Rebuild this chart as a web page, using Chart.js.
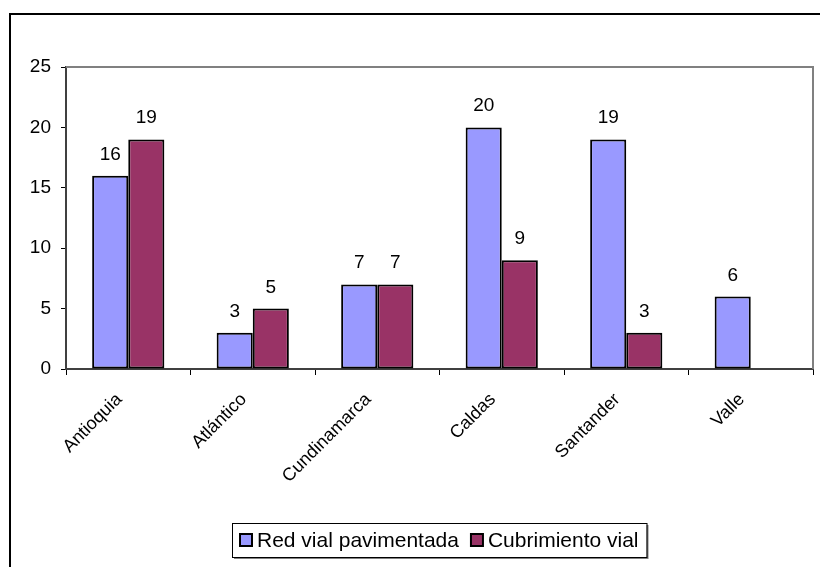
<!DOCTYPE html>
<html>
<head>
<meta charset="utf-8">
<script src="https://cdn.jsdelivr.net/npm/chart.js@4"></script>
<style>
    html, body { margin: 0; padding: 0; background: #fff; }
    #wrap { width: 820px; height: 567px; position: relative; }
</style>
</head>
<body>
<div id="wrap"><canvas id="roadChart" width="820" height="567"></canvas></div>
<script>
const departments = ['Antioquia', 'Atlántico', 'Cundinamarca', 'Caldas', 'Santander', 'Valle'];
const pavedNetwork = [16, 3, 7, 20, 19, 6];
const roadCoverage = [19, 5, 7, 9, 3, null];
const yTicks = [0, 5, 10, 15, 20, 25];

const FONT = 'Liberation Sans, Arial, sans-serif';

// frame, plot box, value labels and the boxed legend (Excel look)
const excelLook = {
    id: 'excelLook',
    beforeDatasetsDraw(chart) {
        const { ctx, chartArea: a } = chart;
        ctx.save();
        ctx.strokeStyle = '#808080';
        ctx.lineWidth = 2;
        ctx.beginPath();
        ctx.moveTo(a.left, a.top);
        ctx.lineTo(a.right, a.top);
        ctx.lineTo(a.right, a.bottom);
        ctx.stroke();
        ctx.restore();
    },
    afterDraw(chart) {
        const { ctx, chartArea: a } = chart;
        ctx.save();
        // outer frame
        ctx.strokeStyle = '#000';
        ctx.lineWidth = 2;
        ctx.beginPath();
        ctx.moveTo(10, 567);
        ctx.lineTo(10, 14);
        ctx.lineTo(820, 14);
        ctx.stroke();

        // value labels
        ctx.fillStyle = '#000';
        ctx.font = '19px ' + FONT;
        ctx.textAlign = 'center';
        ctx.textBaseline = 'alphabetic';
        chart.data.datasets.forEach((ds, i) => {
            chart.getDatasetMeta(i).data.forEach((bar, j) => {
                const v = ds.data[j];
                if (v === null || v === undefined) return;
                ctx.fillText(String(v), bar.x, bar.y - 16);
            });
        });

        // legend
        ctx.font = '21px ' + FONT;
        const box = 12, gap = 5, spacing = 12, padX = 8;
        const items = chart.data.datasets.map(ds => ({
            text: ds.label, color: ds.backgroundColor, w: box + gap + ctx.measureText(ds.label).width
        }));
        const total = items.reduce((s, it) => s + it.w, 0) + spacing * (items.length - 1) + padX * 2;
        const cx = (a.left + a.right) / 2;
        const lx = Math.round(cx - total / 2), ly = 523, lh = 34;
        ctx.fillStyle = '#808080';
        ctx.fillRect(lx + 2, ly + 2, total, lh);
        ctx.fillStyle = '#fff';
        ctx.fillRect(lx, ly, total, lh);
        ctx.strokeStyle = '#000';
        ctx.lineWidth = 1;
        ctx.strokeRect(lx + 0.5, ly + 0.5, total, lh);
        let x = lx + padX;
        const my = ly + lh / 2;
        items.forEach(it => {
            ctx.fillStyle = it.color;
            ctx.fillRect(x, my - box / 2, box, box);
            ctx.lineWidth = 2;
            ctx.strokeStyle = '#000';
            ctx.strokeRect(x, my - box / 2, box, box);
            ctx.fillStyle = '#000';
            ctx.textAlign = 'left';
            ctx.textBaseline = 'middle';
            ctx.fillText(it.text, x + box + gap, my + 1);
            x += it.w + spacing;
        });
        ctx.restore();
    }
};

new Chart(document.getElementById('roadChart'), {
    type: 'bar',
    data: {
        labels: departments,
        datasets: [
            {
                label: 'Red vial pavimentada',
                data: pavedNetwork,
                backgroundColor: '#9999FF',
                borderColor: '#000',
                borderWidth: 2,
                borderSkipped: false
            },
            {
                label: 'Cubrimiento vial',
                data: roadCoverage,
                backgroundColor: '#993366',
                borderColor: '#000',
                borderWidth: 2,
                borderSkipped: false
            }
        ]
    },
    options: {
        responsive: false,
        animation: false,
        devicePixelRatio: 1,
        layout: { padding: { left: 0, right: 7, top: 67, bottom: 0 } },
        datasets: { bar: { categoryPercentage: 0.58, barPercentage: 1.0 } },
        plugins: { legend: { display: false }, tooltip: { enabled: false } },
        scales: {
            x: {
                grid: { offset: true, drawOnChartArea: false, tickLength: 6, color: '#000', lineWidth: 1 },
                border: { color: '#404040', width: 2 },
                ticks: {
                    autoSkip: false, maxRotation: 45, minRotation: 45, padding: 14, labelOffset: -9,
                    color: '#000', font: { family: FONT, size: 18 }
                },
                afterFit(scale) { scale.height = 567 - 369; }
            },
            y: {
                min: 0, max: 25,
                grid: { drawOnChartArea: false, tickLength: 5, color: '#000' },
                border: { color: '#404040', width: 2 },
                afterBuildTicks(scale) { scale.ticks = yTicks.map(v => ({ value: v })); },
                ticks: { padding: 10, color: '#000', font: { family: FONT, size: 19 } },
                afterFit(scale) { scale.width = 66; }
            }
        }
    },
    plugins: [excelLook]
});
</script>
</body>
</html>
